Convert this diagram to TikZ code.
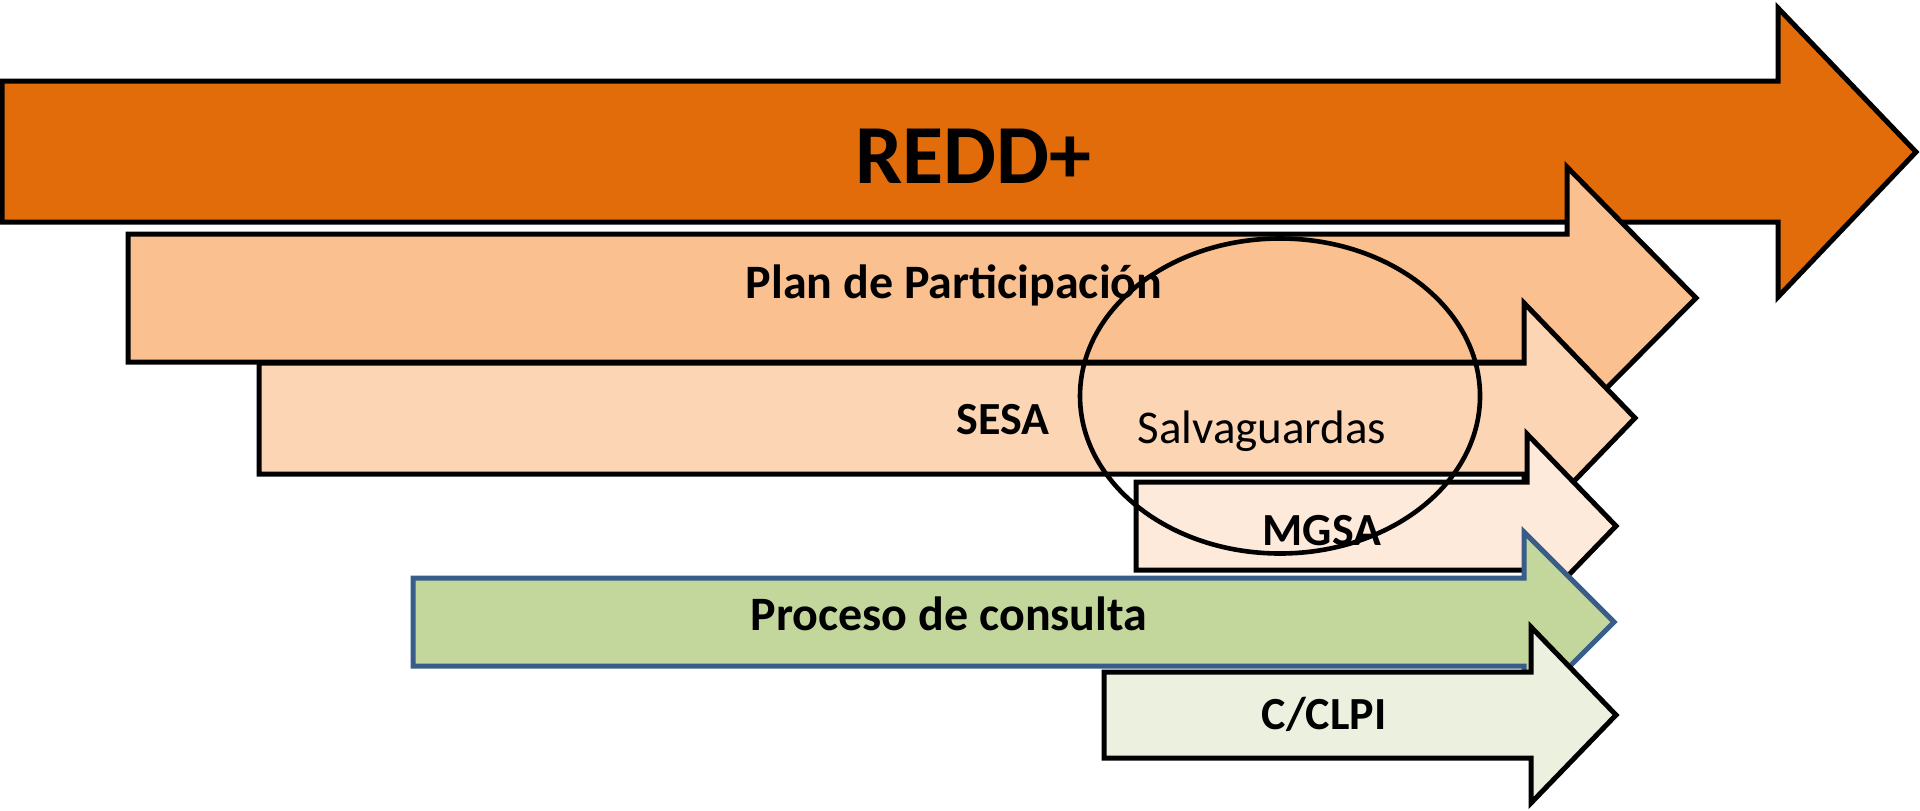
\documentclass[tikz,border=0pt]{standalone}
\usepackage{fontspec}
\setmainfont{Carlito}
\definecolor{reddc}{RGB}{227,108,10}
\definecolor{planc}{RGB}{250,192,144}
\definecolor{sesac}{RGB}{252,213,181}
\definecolor{mgsac}{RGB}{253,234,218}
\definecolor{procc}{RGB}{195,214,155}
\definecolor{clpic}{RGB}{235,241,222}
\definecolor{bluec}{RGB}{56,93,138}
\tikzset{
  arrowshape/.style={draw=black, line width=2.5pt, line join=miter},
  lbl/.style={font=\fontsize{23}{27}\selectfont\bfseries, inner sep=0pt, anchor=base},
}
\begin{document}
\begin{tikzpicture}[x=0.5pt, y=-0.5pt]
\useasboundingbox (0,0) rectangle (1920,810);
% REDD+
\draw[arrowshape, fill=reddc] (2,81) -- (1778,81) -- (1778,8) -- (1916,152) -- (1778,297) -- (1778,222) -- (2,222) -- cycle;
% Plan de Participacion
\draw[arrowshape, fill=planc] (128,234) -- (1567,234) -- (1567,167) -- (1696,298) -- (1567,428) -- (1567,362) -- (128,362) -- cycle;
% SESA
\draw[arrowshape, fill=sesac] (259,363) -- (1524,363) -- (1524,303) -- (1635,418) -- (1524,533) -- (1524,474) -- (259,474) -- cycle;
% MGSA
\draw[arrowshape, fill=mgsac] (1136,482) -- (1527,482) -- (1527,434) -- (1616,526) -- (1527,618) -- (1527,570) -- (1136,570) -- cycle;
% Proceso de consulta
\draw[arrowshape, draw=bluec, fill=procc] (413,578) -- (1524,578) -- (1524,532) -- (1614,622) -- (1524,712) -- (1524,666) -- (413,666) -- cycle;
% C/CLPI
\draw[arrowshape, fill=clpic] (1104,672) -- (1531,672) -- (1531,627) -- (1616,715) -- (1531,803) -- (1531,758) -- (1104,758) -- cycle;
% ellipse
\draw[line width=2.3pt] (1280,396) ellipse [x radius=200, y radius=157.5];
% labels
\node[lbl, font=\fontsize{42}{48}\selectfont\bfseries] (redd) at (973,183) {REDD+};
\node[lbl, font=\fontsize{24}{28}\selectfont\bfseries] (plan) at (954,298) {Plan de Participación};
\node[lbl] (sesa) at (1003,434) {SESA};
\node[lbl, font=\fontsize{23.5}{28}\selectfont] (salv) at (1262,443) {Salvaguardas};
\node[lbl] (mgsa) at (1322,545) {MGSA};
\node[lbl, font=\fontsize{24}{28}\selectfont\bfseries] (proc) at (949,630) {Proceso de consulta};
\node[lbl] (clpi) at (1324,729) {C/CLPI};
\end{tikzpicture}
\end{document}
